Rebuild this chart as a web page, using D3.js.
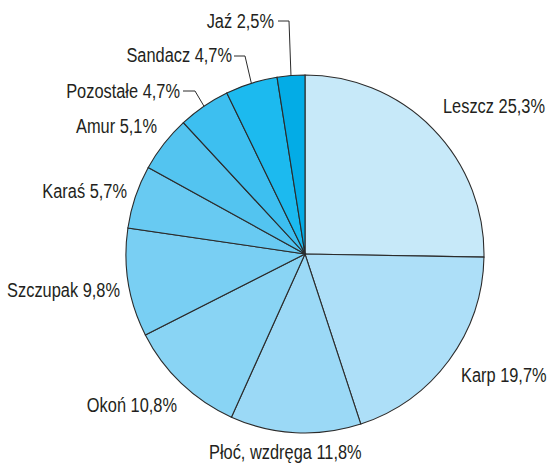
<!DOCTYPE html>
<html>
<head>
<meta charset="utf-8">
<script src="https://cdn.jsdelivr.net/npm/d3@7"></script>
<style>
  body { margin: 0; background: #fff; }
  svg { display: block; }
  .label {
    font-family: 'Liberation Sans', Arial, sans-serif;
    font-size: 21px;
    fill: #231f20;
  }
  .slice { stroke: #2b2b2b; stroke-width: 1.1px; }
  .leader { fill: none; stroke: #2b2b2b; stroke-width: 1px; }
</style>
</head>
<body>
<div id="chart"></div>
<script>
// species and their share (%), clockwise from 12 o'clock
const species = ['Leszcz', 'Karp', 'Płoć, wzdręga', 'Okoń', 'Szczupak', 'Karaś', 'Amur', 'Pozostałe', 'Sandacz', 'Jaź'];
const shares = [25.3, 19.7, 11.8, 10.8, 9.8, 5.7, 5.1, 4.7, 4.7, 2.5];
const shareLabels = ['25,3%', '19,7%', '11,8%', '10,8%', '9,8%', '5,7%', '5,1%', '4,7%', '4,7%', '2,5%'];
const colors = ['#c7e9f9', '#addff8', '#9bd9f6', '#89d4f4', '#79cff3', '#68caf2', '#53c4f0', '#3dbff0', '#1cbaef', '#03ace6'];

const width = 548, height = 466;
const cx = 305, cy = 254, radius = 179;
const condense = 0.78; // the original uses a condensed face

// label placement: anchor point, text-anchor, optional elbow for a leader line
const labelLayout = [
  { x: 443, y: 113, anchor: 'start' },
  { x: 461, y: 382, anchor: 'start' },
  { x: 209, y: 459, anchor: 'start' },
  { x: 177, y: 412, anchor: 'end' },
  { x: 120, y: 297, anchor: 'end' },
  { x: 127, y: 198, anchor: 'end' },
  { x: 157, y: 133, anchor: 'end' },
  { x: 180, y: 98, anchor: 'end', elbow: [195, 91], lineEnd: 183 },
  { x: 232, y: 62, anchor: 'end', elbow: [245, 56], lineEnd: 234 },
  { x: 274, y: 28, anchor: 'end', elbow: [289, 21], lineEnd: 278 }
];

const svg = d3.select('#chart').append('svg')
  .attr('width', width)
  .attr('height', height);

const pie = d3.pie().sort(null).value(d => d);
const arcs = pie(shares);
const arc = d3.arc().innerRadius(0).outerRadius(radius);

const g = svg.append('g').attr('transform', `translate(${cx},${cy})`);

g.selectAll('path.slice')
  .data(arcs)
  .enter().append('path')
  .attr('class', 'slice')
  .attr('fill', (d, i) => colors[i])
  .attr('d', arc);

// leader lines for the small slices at the top
arcs.forEach((d, i) => {
  const lay = labelLayout[i];
  if (!lay.elbow) return;
  const a = (d.startAngle + d.endAngle) / 2;
  const px = cx + radius * Math.sin(a);
  const py = cy - radius * Math.cos(a);
  svg.append('path')
    .attr('class', 'leader')
    .attr('d', d3.line()([[px, py], lay.elbow, [lay.lineEnd, lay.elbow[1]]]));
});

svg.selectAll('g.lbl')
  .data(species)
  .enter().append('g')
  .attr('class', 'lbl')
  .attr('transform', (d, i) => `translate(${labelLayout[i].x},${labelLayout[i].y}) scale(${condense},1)`)
  .append('text')
  .attr('class', 'label')
  .attr('text-anchor', (d, i) => labelLayout[i].anchor)
  .text((d, i) => `${d} ${shareLabels[i]}`);
</script>
</body>
</html>
